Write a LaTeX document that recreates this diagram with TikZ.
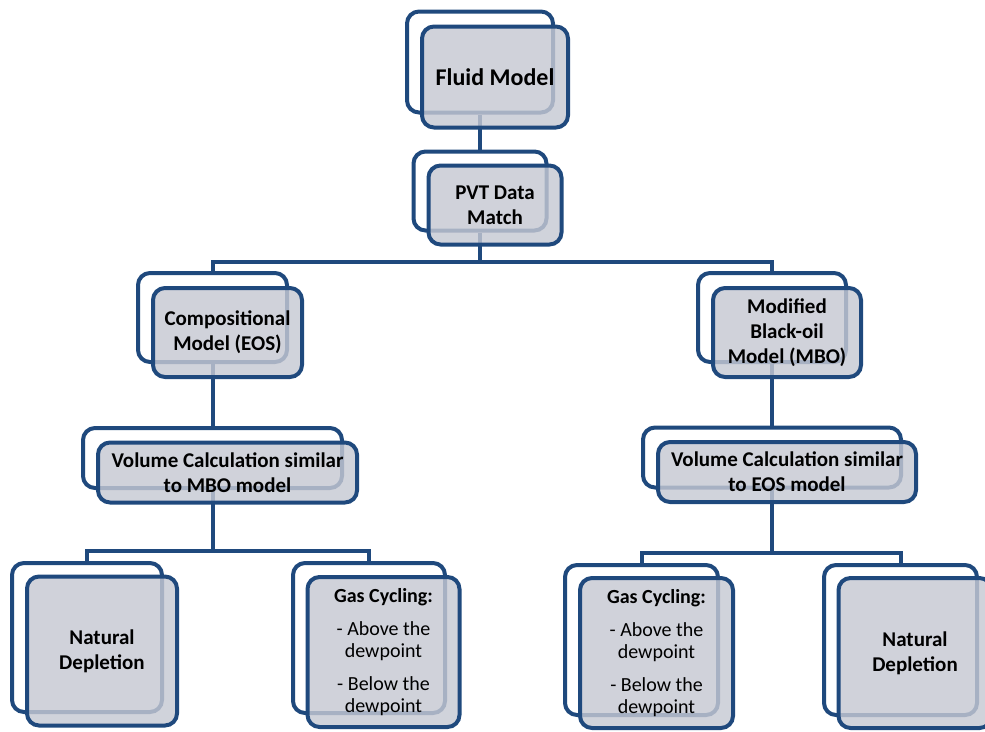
\documentclass[tikz,border=0pt]{standalone}
\usepackage{fontspec}
\setmainfont{Carlito}
\definecolor{boxblue}{HTML}{1F497D}
\definecolor{boxgray}{HTML}{C6C9D3}
\begin{document}
\begin{tikzpicture}[x=1pt,y=-1pt]

      \tikzset{back/.style={draw=boxblue, line width=4pt, rounded corners=12pt, fill=white},
               front/.style={draw=boxblue, line width=4pt, rounded corners=12pt, fill=boxgray, fill opacity=0.82, text opacity=1, align=center, font=\fontsize{21}{25}\selectfont\bfseries},
               link/.style={draw=boxblue, line width=4pt}}
      \useasboundingbox (0,0) rectangle (985,731);
% Back boxes
	%Top
      	\node[back, minimum width=146, minimum height=101] (b1) at (480,62) {};
      	\node[back, minimum width=133, minimum height=79] (b2) at (480,191) {};
	%Left branch
      	\node[back, minimum width=149, minimum height=89] (b3) at (212.5,317.5) {};
      	\node[back, minimum width=259, minimum height=60] (b5) at (212.5,458) {};
      	\node[back, minimum width=150, minimum height=149] (b7) at (87,637.5) {};
      	\node[back, minimum width=152, minimum height=150] (b8) at (369,638) {};
	%Right branch
      	\node[back, minimum width=148, minimum height=89] (b4) at (772,317.5) {};
      	\node[back, minimum width=258, minimum height=60] (b6) at (772,457.5) {};
      	\node[back, minimum width=153, minimum height=150] (b9) at (641.5,640) {};
      	\node[back, minimum width=153, minimum height=150] (b10) at (900.5,640) {};
% Connectors
      	\coordinate (j1) at (480,262);
      	\coordinate (j2) at (212.5,551);
      	\coordinate (j3) at (772,553);
		\draw[link] (b1.south) -- (b2.north);
		\draw[link] (b2.south) -- (j1) -| (b3.north);
		\draw[link] (j1) -| (b4.north);
		\draw[link] (b3.south) -- (b5.north);
		\draw[link] (b4.south) -- (b6.north);
		\draw[link] (b5.south) -- (j2) -| (b7.north);
		\draw[link] (j2) -| (b8.north);
		\draw[link] (b6.south) -- (j3) -| (b9.north);
		\draw[link] (j3) -| (b10.north);
% Front boxes
	%Top
      	\node[front, minimum width=146, minimum height=101, font=\fontsize{24}{28}\selectfont\bfseries] (f1) at (495,77) {Fluid Model};
      	\node[front, minimum width=133, minimum height=79] (f2) at (495,205) {PVT Data\\Match};
	%Left branch
      	\node[front, minimum width=149, minimum height=89] (f3) at (227.5,332.5) {Compositional\\Model (EOS)};
      	\node[front, minimum width=259, minimum height=60] (f5) at (227.5,472.5) {Volume Calculation similar\\to MBO model};
      	\node[front, minimum width=150, minimum height=149] (f7) at (102,651) {Natural\\Depletion};
      	\node[front, minimum width=152, minimum height=150, font=\fontsize{20}{22}\selectfont] (f8) at (383.5,652) {\textbf{Gas Cycling:}\\[11pt]- Above the\\dewpoint\\[11pt]- Below the\\dewpoint};
	%Right branch
      	\node[front, minimum width=148, minimum height=89] (f4) at (787,332.5) {Modified\\Black-oil\\Model (MBO)};
      	\node[front, minimum width=258, minimum height=60] (f6) at (787,472) {Volume Calculation similar\\to EOS model};
      	\node[front, minimum width=153, minimum height=150, font=\fontsize{20}{22}\selectfont] (f9) at (656.5,653) {\textbf{Gas Cycling:}\\[11pt]- Above the\\dewpoint\\[11pt]- Below the\\dewpoint};
      	\node[front, minimum width=153, minimum height=150] (f10) at (915,653) {Natural\\Depletion};

	\end{tikzpicture}
\end{document}
